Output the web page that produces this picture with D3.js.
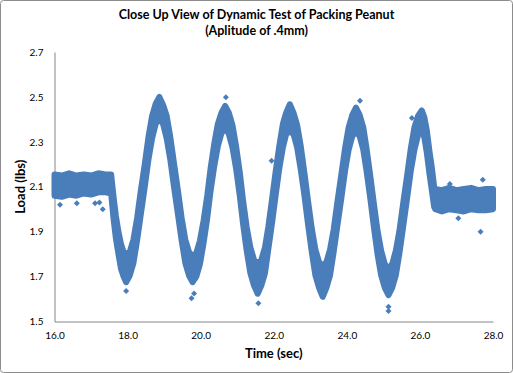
<!DOCTYPE html>
<html>
<head>
<meta charset="utf-8">
<script src="https://cdn.jsdelivr.net/npm/d3@7"></script>
<style>
  body { margin: 0; background: #fff; }
  text { font-family: Lato, "Liberation Sans", sans-serif; fill: #000; }
</style>
</head>
<body>
<div id="chart"></div>
<script>
// band of readings: time (sec), upper and lower edge of the marker cloud (lbs)
var times = [16.00, 16.20, 16.40, 16.60, 16.80, 17.00, 17.20, 17.40, 17.55,
  17.62, 17.68, 17.75, 17.82, 17.89, 17.96,
  18.06, 18.16, 18.26, 18.36, 18.47, 18.57, 18.67, 18.77, 18.87,
  18.97, 19.07, 19.17, 19.27, 19.38, 19.48, 19.58, 19.68, 19.78,
  19.88, 19.98, 20.08, 20.18, 20.27, 20.37, 20.47, 20.57, 20.67,
  20.77, 20.87, 20.97, 21.07, 21.16, 21.26, 21.36, 21.46, 21.56,
  21.66, 21.76, 21.85, 21.95, 22.05, 22.15, 22.25, 22.34, 22.44,
  22.54, 22.64, 22.74, 22.84, 22.94, 23.04, 23.14, 23.24, 23.34,
  23.44, 23.54, 23.64, 23.74, 23.85, 23.95, 24.05, 24.15, 24.25,
  24.35, 24.45, 24.54, 24.64, 24.74, 24.84, 24.94, 25.04, 25.14,
  25.24, 25.34, 25.44, 25.54, 25.65, 25.75, 25.85, 25.95, 26.05,
  26.12, 26.19, 26.26, 26.33, 26.39, 26.42,
  26.60, 26.80, 27.00, 27.20, 27.40, 27.60, 27.80, 28.00];

var loadHigh = [2.155, 2.150, 2.160, 2.150, 2.155, 2.150, 2.160, 2.155, 2.155,
  2.05, 1.97, 1.90, 1.845, 1.81, 1.80,
  1.81, 1.865, 1.96, 2.08, 2.20, 2.32, 2.415, 2.47, 2.50,
  2.465, 2.415, 2.32, 2.205, 2.08, 1.96, 1.865, 1.81, 1.79,
  1.805, 1.86, 1.95, 2.06, 2.18, 2.29, 2.38, 2.43, 2.46,
  2.43, 2.375, 2.28, 2.165, 2.04, 1.92, 1.83, 1.775, 1.758,
  1.775, 1.83, 1.92, 2.04, 2.165, 2.28, 2.38, 2.43, 2.467,
  2.43, 2.375, 2.28, 2.16, 2.035, 1.915, 1.82, 1.765, 1.745,
  1.765, 1.82, 1.91, 2.03, 2.155, 2.27, 2.365, 2.42, 2.452,
  2.42, 2.365, 2.27, 2.15, 2.025, 1.905, 1.815, 1.755, 1.735,
  1.755, 1.815, 1.905, 2.025, 2.15, 2.27, 2.365, 2.415, 2.44,
  2.41, 2.35, 2.26, 2.18, 2.10, 2.09,
  2.085, 2.095, 2.085, 2.09, 2.095, 2.085, 2.09, 2.09];

var loadLow = [2.060, 2.055, 2.065, 2.060, 2.070, 2.065, 2.075, 2.075, 2.070,
  1.95, 1.87, 1.80, 1.735, 1.70, 1.675,
  1.705, 1.76, 1.86, 1.975, 2.10, 2.22, 2.315, 2.38, 2.405,
  2.38, 2.315, 2.22, 2.10, 1.975, 1.86, 1.76, 1.705, 1.675,
  1.70, 1.755, 1.85, 1.96, 2.08, 2.19, 2.28, 2.34, 2.36,
  2.335, 2.275, 2.18, 2.06, 1.935, 1.815, 1.715, 1.66, 1.624,
  1.66, 1.715, 1.82, 1.935, 2.06, 2.18, 2.275, 2.335, 2.345,
  2.335, 2.275, 2.175, 2.06, 1.93, 1.81, 1.705, 1.65, 1.61,
  1.65, 1.705, 1.81, 1.925, 2.05, 2.17, 2.265, 2.325, 2.345,
  2.325, 2.265, 2.17, 2.05, 1.92, 1.80, 1.705, 1.65, 1.617,
  1.65, 1.705, 1.805, 1.92, 2.05, 2.17, 2.265, 2.33, 2.36,
  2.32, 2.25, 2.16, 2.08, 2.01, 2.00,
  1.990, 2.000, 1.995, 1.990, 2.000, 1.995, 1.995, 2.000];

// stray readings outside the band
var strayTime = [16.15, 16.61, 17.11, 17.23, 17.32, 17.96, 19.75, 19.82, 20.69, 21.94,
  21.58, 24.36, 25.78, 25.14, 25.14, 26.82, 27.05, 27.66, 27.72];
var strayLoad = [2.020, 2.027, 2.027, 2.030, 2.000, 1.636, 1.603, 1.625, 2.498, 2.216,
  1.581, 2.483, 2.406, 1.566, 1.547, 2.112, 1.960, 1.900, 2.131];

var xTicks = [16, 18, 20, 22, 24, 26, 28];
var yTicks = [1.5, 1.7, 1.9, 2.1, 2.3, 2.5, 2.7];

var W = 513, H = 373;
var margin = {top: 52, right: 20, bottom: 51.5, left: 54.5};
var blue = "#4a7ebb";

var svg = d3.select("#chart")
  .append("svg")
    .attr("width", W)
    .attr("height", H);

svg.append("rect")
    .attr("x", 0.5)
    .attr("y", 0.5)
    .attr("width", W - 1)
    .attr("height", H - 1)
    .attr("rx", 3)
    .attr("fill", "#fff")
    .attr("stroke", "#8c8c8c");

var x = d3.scaleLinear()
  .domain([16, 28])
  .range([margin.left, W - margin.right]);

var y = d3.scaleLinear()
  .domain([1.5, 2.7])
  .range([H - margin.bottom, margin.top]);

var fmt = d3.format(".1f");

svg.append("g")
    .attr("transform", "translate(0," + y(1.5) + ")")
    .call(d3.axisBottom(x).tickValues(xTicks).tickFormat(fmt).tickSize(0).tickPadding(10));

svg.append("g")
    .attr("transform", "translate(" + x(16) + ",0)")
    .call(d3.axisLeft(y).tickValues(yTicks).tickFormat(fmt).tickSize(0).tickPadding(11));

svg.selectAll(".domain").attr("stroke", "#868686");
svg.selectAll(".tick text")
    .style("font-family", "Lato, sans-serif")
    .style("font-size", "10px")
    .attr("fill", "#000");

var band = times.map(function(t, i) { return {t: t, hi: loadHigh[i], lo: loadLow[i]}; });

var area = d3.area()
    .x(function(d) { return x(d.t); })
    .y0(function(d) { return y(d.lo); })
    .y1(function(d) { return y(d.hi); });

svg.append("path")
    .datum(band)
    .attr("d", area)
    .attr("fill", blue)
    .attr("stroke", blue)
    .attr("stroke-width", 6)
    .attr("stroke-linejoin", "round");

var diamond = d3.symbol().type(d3.symbolSquare).size(18);

svg.selectAll(".stray")
  .data(strayTime)
  .enter()
  .append("path")
    .attr("class", "stray")
    .attr("d", diamond)
    .attr("transform", function(d, i) {
      return "translate(" + x(d) + "," + y(strayLoad[i]) + ") rotate(45)";
    })
    .attr("fill", blue);

// titles
svg.append("text")
    .attr("x", W / 2)
    .attr("y", 19)
    .style("text-anchor", "middle")
    .style("font-size", "12.5px")
    .style("font-weight", "bold")
    .text("Close Up View of Dynamic Test of Packing Peanut");

svg.append("text")
    .attr("x", W / 2)
    .attr("y", 35)
    .style("text-anchor", "middle")
    .style("font-size", "12.5px")
    .style("font-weight", "bold")
    .text("(Aplitude of .4mm)");

svg.append("text")
    .attr("x", (x(16) + x(28)) / 2)
    .attr("y", 358)
    .style("text-anchor", "middle")
    .style("font-size", "13px")
    .style("font-weight", "bold")
    .text("Time (sec)");

svg.append("text")
    .attr("transform", "translate(25," + (y(1.5) + y(2.7)) / 2 + ") rotate(-90)")
    .style("text-anchor", "middle")
    .style("font-size", "13px")
    .style("font-weight", "bold")
    .text("Load (lbs)");
</script>
</body>
</html>
